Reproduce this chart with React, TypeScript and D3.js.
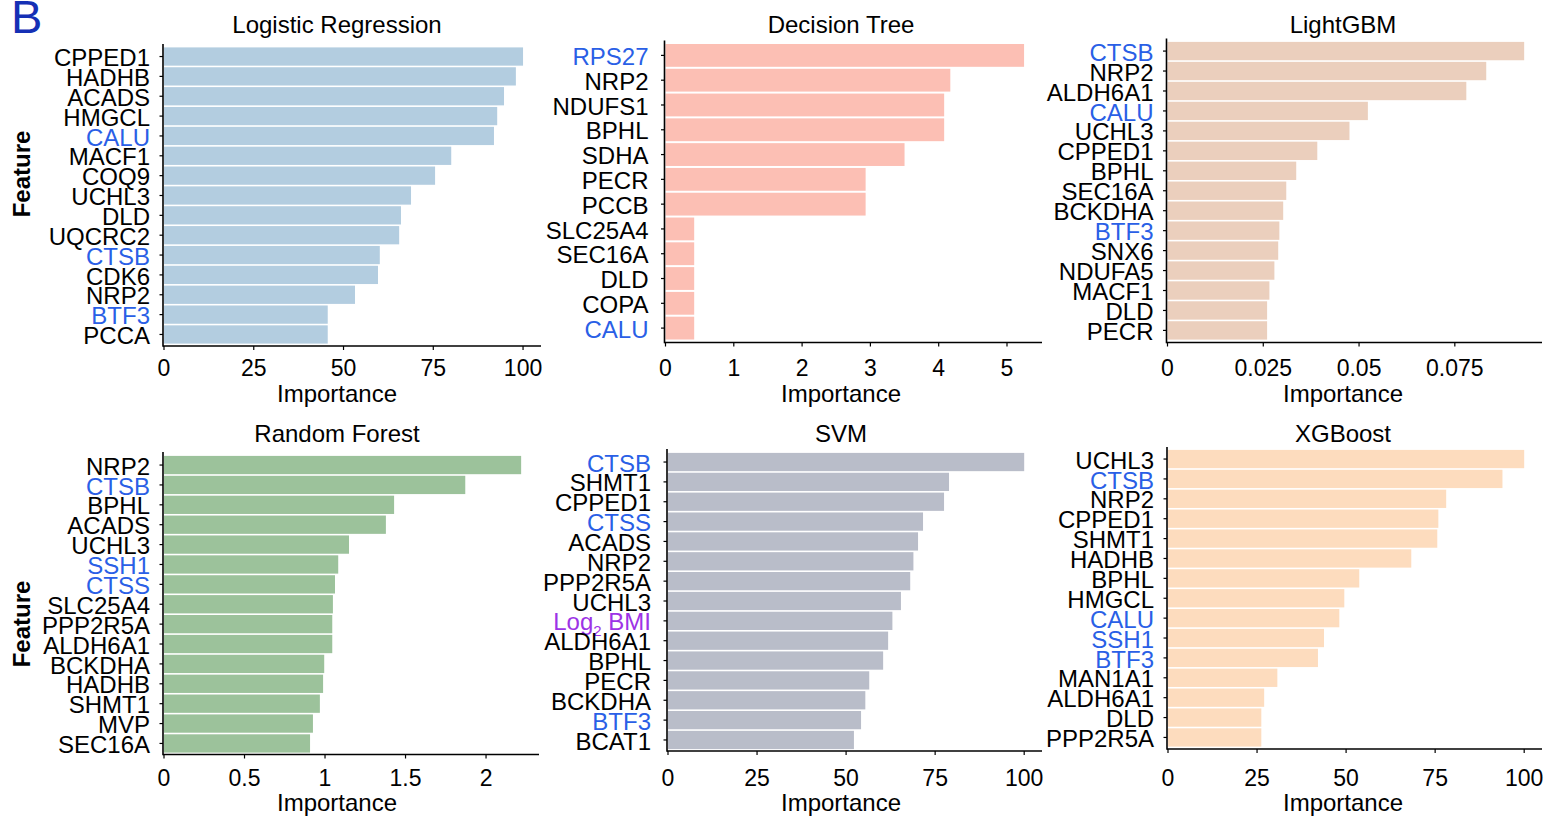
import React from "react";
import * as d3 from "d3";

// ---------- data ----------
const lrFeatures = ["CPPED1", "HADHB", "ACADS", "HMGCL", "CALU", "MACF1", "COQ9", "UCHL3", "DLD", "UQCRC2", "CTSB", "CDK6", "NRP2", "BTF3", "PCCA"];
const lrValues = [100, 98.0, 94.7, 92.8, 91.9, 80.0, 75.5, 68.8, 66.0, 65.5, 60.1, 59.6, 53.2, 45.6, 45.6];
const lrTicks = [0, 25, 50, 75, 100];

const dtFeatures = ["RPS27", "NRP2", "NDUFS1", "BPHL", "SDHA", "PECR", "PCCB", "SLC25A4", "SEC16A", "DLD", "COPA", "CALU"];
const dtValues = [5.25, 4.17, 4.08, 4.08, 3.5, 2.93, 2.93, 0.42, 0.42, 0.42, 0.42, 0.42];
const dtTicks = [0, 1, 2, 3, 4, 5];

const lgbmFeatures = ["CTSB", "NRP2", "ALDH6A1", "CALU", "UCHL3", "CPPED1", "BPHL", "SEC16A", "BCKDHA", "BTF3", "SNX6", "NDUFA5", "MACF1", "DLD", "PECR"];
const lgbmValues = [0.0931, 0.0832, 0.078, 0.0523, 0.0475, 0.0391, 0.0336, 0.031, 0.0302, 0.0292, 0.0289, 0.0279, 0.0266, 0.026, 0.026];
const lgbmTicks = [0, 0.025, 0.05, 0.075];

const rfFeatures = ["NRP2", "CTSB", "BPHL", "ACADS", "UCHL3", "SSH1", "CTSS", "SLC25A4", "PPP2R5A", "ALDH6A1", "BCKDHA", "HADHB", "SHMT1", "MVP", "SEC16A"];
const rfValues = [2.218, 1.871, 1.429, 1.378, 1.149, 1.082, 1.062, 1.049, 1.045, 1.045, 0.995, 0.988, 0.968, 0.925, 0.907];
const rfTicks = [0, 0.5, 1, 1.5, 2];

const svmFeatures = ["CTSB", "SHMT1", "CPPED1", "CTSS", "ACADS", "NRP2", "PPP2R5A", "UCHL3", "Log2 BMI", "ALDH6A1", "BPHL", "PECR", "BCKDHA", "BTF3", "BCAT1"];
const svmValues = [100, 78.9, 77.5, 71.6, 70.2, 68.9, 68.0, 65.4, 63.0, 61.8, 60.4, 56.5, 55.4, 54.2, 52.2];
const svmTicks = [0, 25, 50, 75, 100];

const xgbFeatures = ["UCHL3", "CTSB", "NRP2", "CPPED1", "SHMT1", "HADHB", "BPHL", "HMGCL", "CALU", "SSH1", "BTF3", "MAN1A1", "ALDH6A1", "DLD", "PPP2R5A"];
const xgbValues = [100, 93.9, 78.1, 75.9, 75.6, 68.3, 53.7, 49.5, 48.1, 43.8, 42.1, 30.7, 27.0, 26.2, 26.2];
const xgbTicks = [0, 25, 50, 75, 100];

const blueFeatures = ["CALU", "CTSB", "BTF3", "RPS27", "SSH1", "CTSS"];
const purpleFeatures = ["Log2 BMI"];

// ---------- layout ----------
const FONT = "'Liberation Sans', Arial, Helvetica, sans-serif";
const BLUE = "#2a5fe6";
const PURPLE = "#9d33e6";
const LABEL_SIZE = 24;
const TICK_SIZE = 23;

type Panel = {
  title: string;
  features: string[];
  values: number[];
  ticks: number[];
  color: string;
  x0: number;
  x1: number;
  yTop: number;
  b0: number;
  b1: number;
  axisY: number;
  cx: number;
  titleY: number;
  tickY: number;
  labelY: number;
  gap: number;
};

const panels: Panel[] = [
  { title: "Logistic Regression", features: lrFeatures, values: lrValues, ticks: lrTicks, color: "#b3cde0", x0: 164, x1: 541, yTop: 44, b0: 47, b1: 344, axisY: 346, cx: 337, titleY: 33, tickY: 376, labelY: 402, gap: 13 },
  { title: "Decision Tree", features: dtFeatures, values: dtValues, ticks: dtTicks, color: "#fcbfb4", x0: 665.5, x1: 1042, yTop: 40.5, b0: 43.5, b1: 340, axisY: 342.5, cx: 841, titleY: 33, tickY: 376, labelY: 402, gap: 16 },
  { title: "LightGBM", features: lgbmFeatures, values: lgbmValues, ticks: lgbmTicks, color: "#ebcfbd", x0: 1167.5, x1: 1542, yTop: 38.5, b0: 41.5, b1: 340, axisY: 342.5, cx: 1343, titleY: 33, tickY: 376, labelY: 402, gap: 13 },
  { title: "Random Forest", features: rfFeatures, values: rfValues, ticks: rfTicks, color: "#9cc29b", x0: 164, x1: 539, yTop: 452, b0: 455.5, b1: 753, axisY: 754.5, cx: 337, titleY: 442, tickY: 786, labelY: 811, gap: 13 },
  { title: "SVM", features: svmFeatures, values: svmValues, ticks: svmTicks, color: "#b9bdc9", x0: 668, x1: 1042, yTop: 449, b0: 452.5, b1: 749.5, axisY: 751, cx: 841, titleY: 442, tickY: 786, labelY: 811, gap: 16 },
  { title: "XGBoost", features: xgbFeatures, values: xgbValues, ticks: xgbTicks, color: "#fddcbe", x0: 1168, x1: 1542, yTop: 447, b0: 449.5, b1: 747, axisY: 749, cx: 1343, titleY: 442, tickY: 786, labelY: 811, gap: 13 },
];

function Label({ name, x, y }: { name: string; x: number; y: number }) {
  const isBlue = blueFeatures.includes(name);
  const isPurple = purpleFeatures.includes(name);
  const fill = isBlue ? BLUE : isPurple ? PURPLE : "#000";
  if (name === "Log2 BMI") {
    return (
      <text x={x} y={y} dy="0.4em" textAnchor="end" fill={fill} fontSize={LABEL_SIZE}>
        Log
        <tspan fontSize={15} dy={6}>2</tspan>
        <tspan dy={-6}> BMI</tspan>
      </text>
    );
  }
  return (
    <text x={x} y={y} dy="0.4em" textAnchor="end" fill={fill} fontSize={LABEL_SIZE}>
      {name}
    </text>
  );
}

function BarPanel({ p }: { p: Panel }) {
  const max = d3.max(p.values) as number;
  const x = d3.scaleLinear().domain([0, max * 1.05]).range([p.x0, p.x1]);
  const y = d3.scaleBand<string>().domain(p.features).range([p.b0, p.b1]).paddingInner(0.08).paddingOuter(0.02);
  const axisX = p.x0 - 1;
  return (
    <g>
      <text x={p.cx} y={p.titleY} textAnchor="middle" fontSize={LABEL_SIZE} fill="#000">
        {p.title}
      </text>
      {p.features.map((f, i) => (
        <rect key={f + i} x={x(0)} y={y(f)} width={x(p.values[i]) - x(0)} height={y.bandwidth()} fill={p.color} />
      ))}
      {p.features.map((f, i) => {
        const cy = (y(f) as number) + y.bandwidth() / 2;
        return (
          <g key={"t" + f + i}>
            <line x1={axisX - 3.5} x2={axisX} y1={cy} y2={cy} stroke="#000" strokeWidth={1.2} />
            <Label name={f} x={axisX - p.gap} y={cy} />
          </g>
        );
      })}
      <line x1={axisX} x2={axisX} y1={p.yTop} y2={p.axisY + 0.75} stroke="#000" strokeWidth={1.6} />
      <line x1={axisX} x2={p.x1} y1={p.axisY} y2={p.axisY} stroke="#000" strokeWidth={1.6} />
      {p.ticks.map((t) => (
        <g key={"x" + t}>
          <line x1={x(t)} x2={x(t)} y1={p.axisY} y2={p.axisY + 4} stroke="#000" strokeWidth={1.2} />
          <text x={x(t)} y={p.tickY} textAnchor="middle" fontSize={TICK_SIZE} fill="#000">
            {String(t)}
          </text>
        </g>
      ))}
      <text x={p.cx} y={p.labelY} textAnchor="middle" fontSize={LABEL_SIZE} fill="#000">
        Importance
      </text>
    </g>
  );
}

export default function App() {
  return (
    <svg
      width={1555}
      height={816}
      style={{ position: "absolute", left: 0, top: 0, background: "#fff" }}
      fontFamily={FONT}
    >
      <rect x={0} y={0} width={1555} height={816} fill="#fff" />
      <text x={11} y={33} fontSize={47} fill="#1530b5">B</text>
      <text transform="translate(30,174) rotate(-90)" textAnchor="middle" fontSize={LABEL_SIZE} fontWeight="bold" fill="#000">
        Feature
      </text>
      <text transform="translate(30,624) rotate(-90)" textAnchor="middle" fontSize={LABEL_SIZE} fontWeight="bold" fill="#000">
        Feature
      </text>
      {panels.map((p) => (
        <BarPanel key={p.title} p={p} />
      ))}
    </svg>
  );
}
